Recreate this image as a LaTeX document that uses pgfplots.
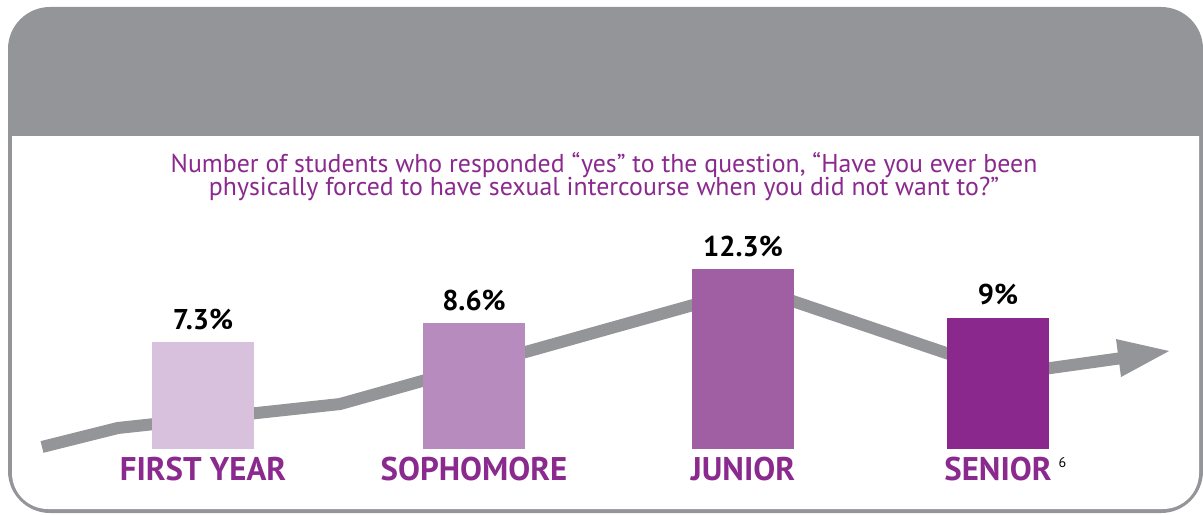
\documentclass[border=0pt]{standalone}
\usepackage{pgfplots}
\pgfplotsset{compat=1.18}
\usepackage{fontspec}
\setmainfont{PT Sans}
\definecolor{hdr}{RGB}{147,149,152}
\definecolor{ttl}{RGB}{139,42,142}
\definecolor{b1}{RGB}{216,193,221}
\definecolor{b2}{RGB}{183,139,190}
\definecolor{b3}{RGB}{160,95,163}
\definecolor{b4}{RGB}{139,40,142}
\begin{document}
\begin{tikzpicture}[x=0.5pt,y=0.5pt]
\useasboundingbox (0,0) rectangle (1203,514);
\fill[hdr, rounded corners=21pt] (8,1) rectangle (1203,507);
\fill[white, rounded corners=18pt] (12,5) rectangle (1199,420);
\fill[hdr] (11,378) rectangle (1200,440);
\node[text=ttl, font=\fontsize{12.9}{14}\selectfont, anchor=base, inner sep=0pt] at (604,341) {Number of students who responded “yes” to the question, “Have you ever been};
\node[text=ttl, font=\fontsize{12.9}{14}\selectfont, anchor=base, inner sep=0pt] at (604,318) {physically forced to have sexual intercourse when you did not want to?”};
\begin{axis}[
  at={(0pt,32.5pt)}, anchor=origin,
  x=0.5pt, y=7.3pt,
  xmin=0, xmax=1203, ymin=0, ymax=15,
  axis line style={draw=none},
  ytick=\empty,
  xtick={203,474,743,998},
  xticklabels={FIRST YEAR, SOPHOMORE, JUNIOR, {SENIOR\rlap{\hspace{3.5pt}\raisebox{6.3pt}{\color{black}\mdseries\fontsize{7}{8}\selectfont 6}}}},
  major tick length=0pt,
  xticklabel style={anchor=base, yshift=-15.5pt, inner sep=0pt, text=ttl, font=\bfseries\fontsize{16.4}{17}\selectfont},
  every node near coord/.append style={font=\bfseries\fontsize{14.3}{15}\selectfont, text=black, anchor=base, inner sep=0pt, yshift=6.5pt},
  clip=false,
]
\addplot[hdr, line width=6pt, line join=miter] coordinates {(42,0.14) (118,1.44) (340,3.08) (754,11.03) (1008,5.14) (1124,6.25)};
\addplot[fill=hdr, draw=none] coordinates {(1116,7.53) (1169,6.71) (1121,4.93)};
\addplot[ybar, bar width=51pt, bar shift=0pt, fill=b1, draw=none, nodes near coords, point meta=explicit symbolic] coordinates {(203,7.3) [7.3\%]};
\addplot[ybar, bar width=51pt, bar shift=0pt, fill=b2, draw=none, nodes near coords, point meta=explicit symbolic] coordinates {(474,8.6) [8.6\%]};
\addplot[ybar, bar width=51pt, bar shift=0pt, fill=b3, draw=none, nodes near coords, point meta=explicit symbolic] coordinates {(743,12.3) [12.3\%]};
\addplot[ybar, bar width=51pt, bar shift=0pt, fill=b4, draw=none, nodes near coords, point meta=explicit symbolic] coordinates {(998,9) [9\%]};
\end{axis}
\end{tikzpicture}
\end{document}
